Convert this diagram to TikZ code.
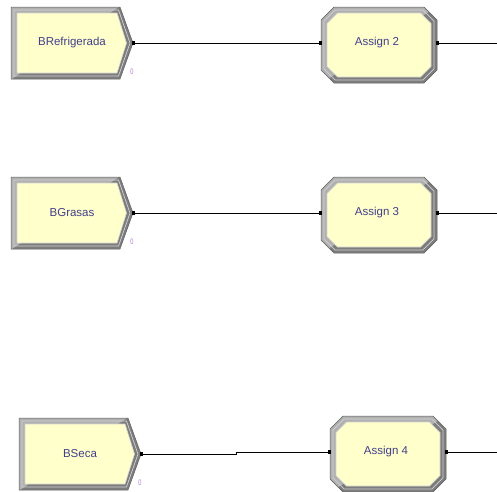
\documentclass[tikz,border=0pt]{standalone}
\usepackage{fontspec}
\setmainfont{Liberation Sans}
\definecolor{framelight}{RGB}{176,176,176}
\definecolor{framedark}{RGB}{124,124,124}
\definecolor{framemid}{RGB}{210,210,210}
\definecolor{modfill}{RGB}{255,255,204}
\definecolor{modtextcol}{RGB}{66,62,140}
\definecolor{countcol}{RGB}{180,120,220}
\tikzset{
  modtext/.style={font=\fontsize{11.5}{12}\selectfont, text=modtextcol, inner sep=0pt},
  counttext/.style={font=\fontsize{8}{8}\selectfont, text=countcol, inner sep=0pt, xscale=0.7},
  conn/.style={draw=black, line width=1pt},
  port/.style={fill=black},
  % Assign module: bevelled octagon with in/out ports
  assignmod/.pic={
    \begin{scope}
      \clip (-45,-38) -- (45,-38) -- (58,-25) -- (58,25) -- (45,38)
            -- (-45,38) -- (-58,25) -- (-58,-25) -- cycle;
      \fill[framedark] (-60,-40) rectangle (60,40);
      \fill[framelight] (-60,40) -- (-60,-40) -- (60,-40) -- cycle;
    \end{scope}
    \draw[framedark!80!black, line width=0.5pt]
      (-45,-38) -- (45,-38) -- (58,-25) -- (58,25) -- (45,38)
      -- (-45,38) -- (-58,25) -- (-58,-25) -- cycle;
    \draw[framemid, line width=0.7pt]
      (-43.8,-35) -- (43.8,-35) -- (55,-23.8) -- (55,23.8) -- (43.8,35)
      -- (-43.8,35) -- (-55,23.8) -- (-55,-23.8) -- cycle;
    \fill[modfill, draw=framemid, line width=0.6pt]
      (-41.5,-32) -- (41.5,-32) -- (52,-21.5) -- (52,21.5) -- (41.5,32)
      -- (-41.5,32) -- (-52,21.5) -- (-52,-21.5) -- cycle;
    \node[modtext] (-label) at (-2,-2) {#1};
    \coordinate (-in) at (-58,-2);
    \coordinate (-out) at (58,-2);
    \fill[port] (-60,-3.6) rectangle (-57,-0.4);
    \fill[port] (57,-3.6) rectangle (60,-0.4);
  },
  % Create module: bevelled pentagon pointing right, with output port
  createmod/.pic={
    \begin{scope}
      \clip (-61,-36) -- (48,-36) -- (61,0) -- (48,36) -- (-61,36) -- cycle;
      \fill[framedark] (-63,-38) rectangle (63,38);
      \fill[framelight] (-63,38) -- (-63,-38) -- (50,-38) -- cycle;
    \end{scope}
    \draw[framedark!80!black, line width=0.5pt]
      (-61,-36) -- (48,-36) -- (61,0) -- (48,36) -- (-61,36) -- cycle;
    \draw[framemid, line width=0.7pt]
      (-58,-33) -- (46.5,-33) -- (58,0) -- (46.5,33) -- (-58,33) -- cycle;
    \fill[modfill, draw=framemid, line width=0.6pt]
      (-55,-30) -- (45,-30) -- (54.5,0) -- (45,30) -- (-55,30) -- cycle;
    \node[modtext] (-label) at (0,0) {#1};
    \node[counttext] (-count) at (60,29) {0};
    \coordinate (-out) at (61,0);
    \fill[port] (60,-1.6) rectangle (63,1.6);
  }
}
\begin{document}
\begin{tikzpicture}[x=1pt,y=-1pt]
  \useasboundingbox (0,0) rectangle (497,491);
  \fill[white] (0,0) rectangle (497,491);

  % modules
  \pic (c1) at (72,43)  {createmod={BRefrigerada}};
  \pic (c2) at (72,213) {createmod={BGrasas}};
  \pic (c3) at (80,454) {createmod={BSeca}};

  \pic (a2) at (379,45)  {assignmod={Assign 2}};
  \pic (a3) at (379,215) {assignmod={Assign 3}};
  \pic (a4) at (388,454) {assignmod={Assign 4}};

  % loose ends of the outgoing connectors
  \coordinate (e2) at (497,43);
  \coordinate (e3) at (497,213);
  \coordinate (e4) at (497,452);
  \coordinate (jog) at (236,454);

  % connectors
  \draw[conn] (c1-out) -- (a2-in);
  \draw[conn] (c2-out) -- (a3-in);
  \draw[conn] (c3-out) -- (jog) -- (jog |- a4-in) -- (a4-in);
  \draw[conn] (a2-out) -- (e2);
  \draw[conn] (a3-out) -- (e3);
  \draw[conn] (a4-out) -- (e4);
\end{tikzpicture}
\end{document}
